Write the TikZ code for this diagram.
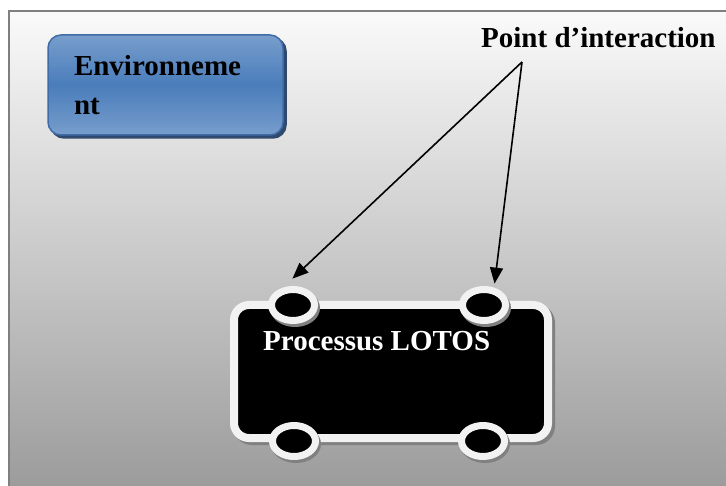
\documentclass[tikz,border=0pt]{standalone}
\usepackage{fontspec}
\setmainfont{Liberation Serif}
\usepackage{tikz}
\usetikzlibrary{shapes.geometric,arrows.meta,shadows,positioning}

\definecolor{frameline}{HTML}{7F7F7F}
\definecolor{envlight}{HTML}{95B3D7}
\definecolor{envdark}{HTML}{4A7DBB}
\definecolor{envline}{HTML}{3F6CA6}
\definecolor{envshade}{HTML}{2F4A6E}
\definecolor{ringwhite}{HTML}{F2F2F2}

\pgfdeclareverticalshading{envshading}{100bp}{color(0bp)=(envlight); color(25bp)=(envlight!60!envdark); color(50bp)=(envdark); color(75bp)=(envlight!60!envdark); color(100bp)=(envlight)}

\begin{document}
\begin{tikzpicture}[x=1pt, y=-1pt,
    big/.style={font=\fontsize{29}{39}\selectfont\bfseries, inner sep=0pt},
    envbox/.style={rectangle, rounded corners=13pt, draw=envline, line width=1.5pt,
        shading=envshading,
        minimum width=235pt, minimum height=100pt, text width=183pt, align=left,
        inner xsep=26pt, inner ysep=0pt,
        drop shadow={shadow xshift=3pt, shadow yshift=-3pt, fill=envshade, draw=envshade, line width=1.5pt, opacity=1}},
    procbox/.style={rectangle, rounded corners=15pt, draw=ringwhite, line width=8pt, fill=black,
        minimum width=314pt, minimum height=133pt,
        drop shadow={shadow xshift=3pt, shadow yshift=-3pt, fill=black!50, draw=black!50, line width=8pt, opacity=1}},
    gate/.style={ellipse, draw=ringwhite, line width=7pt, fill=black, inner sep=0pt,
        minimum width=43pt, minimum height=31pt,
        drop shadow={shadow xshift=2pt, shadow yshift=-3pt, fill=black!50, draw=black!50, line width=7pt, opacity=1}},
    ptr/.style={-{Triangle[length=16pt, width=13pt]}, line width=1.6pt}
]
    \useasboundingbox (0,0) rectangle (726,486);

    % background
    \draw [frameline, line width=2.5pt, top color=white!98!black, bottom color=black!40]
        (9,11) rectangle (740,500);

    % environment
    \node [envbox, big] (env) at (165.5,85) {Environneme\\nt};

    % LOTOS process and its gates
    \node [procbox] (proc) at (391,371.5) {};
    \node [big, white, anchor=base west] (proctxt) at (263,351) {Processus LOTOS};
    \node [gate] (ip1) at (293,305) {};
    \node [gate] (ip2) at (484,305) {};
    \node [gate] (ip3) at (294,441) {};
    \node [gate] (ip4) at (483,441) {};

    % interaction points
    \node [big, anchor=base west] (iplbl) at (481,48) {Point d’interaction};
    \coordinate (src) at (522,62);
    \draw [ptr, shorten >=13pt] (src) -- (ip1.120);
    \draw [ptr, shorten >=4pt] (src) -- (ip2.60);
\end{tikzpicture}
\end{document}
